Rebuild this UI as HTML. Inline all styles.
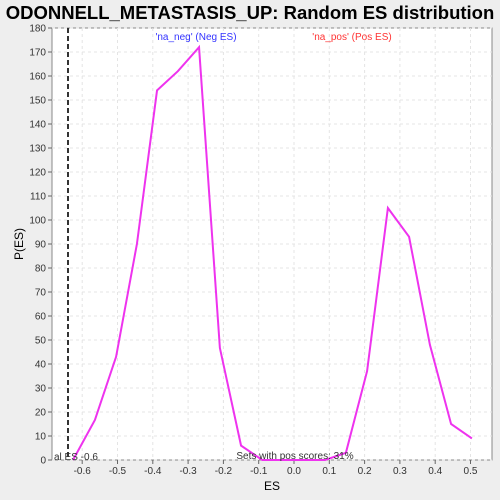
<!DOCTYPE html>
<html><head><meta charset="utf-8"><style>
body{margin:0;background:#eeeeee;}
svg{display:block;font-family:"Liberation Sans",sans-serif;}
</style></head><body>
<svg width="500" height="500">
<rect x="0" y="0" width="500" height="500" fill="#eeeeee"/>
<text x="250" y="19" text-anchor="middle" font-size="18.5" font-weight="bold" fill="#000">ODONNELL_METASTASIS_UP: Random ES distribution</text>
<rect x="52" y="28" width="440" height="432" fill="#fff" stroke="#888"/>
<g id="grid"></g><g id="axes"></g>
<line x1="68" y1="28" x2="68" y2="460" stroke="#333" stroke-width="2" stroke-dasharray="5,3"/>
<polyline id="curve" fill="none" stroke="#ee33ee" stroke-width="2"/>
<text x="196" y="40" text-anchor="middle" font-size="10" fill="#3333ff">'na_neg' (Neg ES)</text>
<text x="352" y="40" text-anchor="middle" font-size="10" fill="#ff3333">'na_pos' (Pos ES)</text>
<text x="54" y="460" font-size="10" fill="#333">al ES -0.6</text>
<text x="295" y="459" text-anchor="middle" font-size="10" fill="#333">Sets with pos scores: 31%</text>
<text x="272" y="490" text-anchor="middle" font-size="12" fill="#000">ES</text>
<text x="23" y="244" text-anchor="middle" font-size="12" fill="#000" transform="rotate(-90 23 244)">P(ES)</text>
</svg>
<script>
const esValues=[-0.626,-0.564,-0.504,-0.445,-0.388,-0.329,-0.269,-0.21,-0.15,-0.09,-0.03,0.03,0.088,0.147,0.207,0.266,0.326,0.385,0.445,0.504];
const pValues=[0,16.7,43,90,154,162,172,46.7,6,0,0,0,0,3,37,105,93,48,15,9];
const xTicks=[-0.6,-0.5,-0.4,-0.3,-0.2,-0.1,0,0.1,0.2,0.3,0.4,0.5];
const yTicks=[0,10,20,30,40,50,60,70,80,90,100,110,120,130,140,150,160,170,180];
const NS='http://www.w3.org/2000/svg';
function xs(v){return 294+v*353;}
function ys(v){return 460-v*2.4;}
const grid=document.getElementById('grid'),axes=document.getElementById('axes');
function mk(tag,attrs,parent){const e=document.createElementNS(NS,tag);for(const k in attrs)e.setAttribute(k,attrs[k]);parent.appendChild(e);return e;}
xTicks.forEach(t=>{const x=xs(t);
const g=mk('line',{x1:x,y1:28,x2:x,y2:460,stroke:'#e4e4e4','stroke-dasharray':'3,3'},grid);


const tk=mk('line',{x1:x,y1:460,x2:x,y2:464,stroke:'#666'},axes);


const tx=mk('text',{x:x,y:474,'text-anchor':'middle','font-size':10,fill:'#333'},axes);
tx.textContent=t.toFixed(1);

});
yTicks.forEach(t=>{const y=ys(t);
const g=mk('line',{x1:52,y1:y,x2:492,y2:y,stroke:'#e4e4e4','stroke-dasharray':'3,3'},grid);


const tk=mk('line',{x1:48,y1:y,x2:52,y2:y,stroke:'#666'},axes);


const tx=mk('text',{x:46,y:y+3.5,'text-anchor':'end','font-size':10,fill:'#333'},axes);
tx.textContent=t;

});
document.getElementById('curve').setAttribute('points',esValues.map((v,i)=>xs(v)+','+ys(pValues[i])).join(' '));
</script>
</body></html>
